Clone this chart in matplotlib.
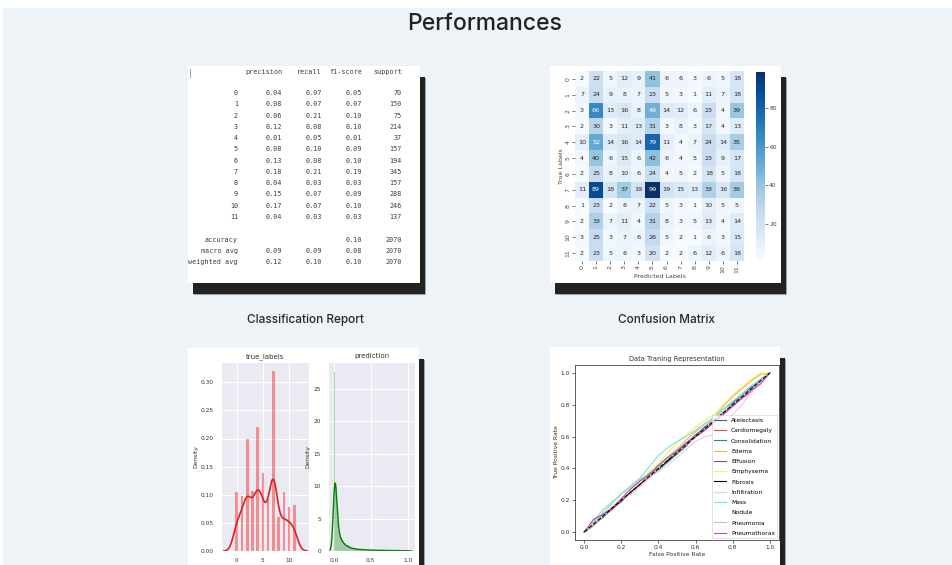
import numpy as np
import matplotlib
matplotlib.use("Agg")
import matplotlib.pyplot as plt
from matplotlib.patches import Rectangle
from matplotlib import font_manager
import seaborn as sns

W, H = 952, 565

# classification report
report_classes = [str(i) for i in range(12)]
precision = [0.04, 0.08, 0.06, 0.12, 0.01, 0.08, 0.13, 0.18, 0.04, 0.15, 0.17, 0.04]
recall = [0.07, 0.07, 0.21, 0.08, 0.05, 0.10, 0.08, 0.21, 0.03, 0.07, 0.07, 0.03]
f1_score = [0.05, 0.07, 0.10, 0.10, 0.01, 0.09, 0.10, 0.19, 0.03, 0.09, 0.10, 0.03]
support = [70, 150, 75, 214, 37, 157, 194, 345, 157, 288, 246, 137]
summary_names = ["accuracy", "macro avg", "weighted avg"]
summary_precision = [None, 0.09, 0.12]
summary_recall = [None, 0.09, 0.10]
summary_f1 = [0.10, 0.08, 0.10]
summary_support = [2070, 2070, 2070]

# confusion matrix (rows = true, cols = predicted)
cm_rows = [
    [2, 22, 5, 12, 9, 41, 6, 6, 3, 6, 5, 18],
    [7, 24, 9, 8, 7, 23, 5, 3, 1, 11, 7, 18],
    [3, 66, 13, 16, 8, 49, 14, 12, 6, 23, 4, 39],
    [2, 30, 3, 11, 13, 31, 3, 8, 3, 17, 4, 13],
    [10, 52, 14, 16, 14, 79, 11, 4, 7, 24, 14, 35],
    [4, 40, 6, 15, 6, 42, 6, 4, 5, 23, 9, 17],
    [2, 25, 8, 10, 6, 24, 4, 5, 2, 18, 5, 18],
    [11, 89, 18, 37, 19, 99, 19, 15, 13, 33, 16, 36],
    [1, 23, 2, 6, 7, 22, 5, 3, 1, 10, 5, 5],
    [2, 33, 7, 11, 4, 31, 8, 3, 5, 13, 4, 14],
    [3, 25, 3, 7, 6, 26, 5, 2, 1, 6, 3, 15],
    [2, 23, 5, 6, 3, 20, 2, 2, 6, 12, 6, 18],
]

# distributions
true_classes = list(range(12))
true_density = [0.105, 0.098, 0.200, 0.107, 0.220, 0.138, 0.092, 0.320, 0.060, 0.105, 0.078, 0.081]
pred_bin_density = [27.5, 10.0, 5.0, 3.2, 2.4, 1.9, 1.5, 1.2, 1.0, 0.85,
                    0.7, 0.6, 0.5, 0.45, 0.4, 0.36, 0.32, 0.3, 0.28, 0.26,
                    0.24, 0.22, 0.2, 0.19, 0.18, 0.17, 0.16, 0.15, 0.14, 0.14,
                    0.13, 0.12, 0.12, 0.11, 0.11, 0.1, 0.1, 0.1, 0.09, 0.09,
                    0.09, 0.09, 0.08, 0.08, 0.08, 0.08, 0.08, 0.08, 0.09, 0.1]

# roc curves
roc_classes = ["Atelectasis", "Cardiomegaly", "Consolidation", "Edema", "Effusion",
               "Emphysema", "Fibrosis", "Infiltration", "Mass", "Nodule",
               "Pneumonia", "Pneumothorax"]
roc_colors = ["#3a66b8", "#e0504a", "#2f8f5a", "#f2b04a", "#6e5a80", "#f4f060",
              "black", "#f2c6ee", "#7fdcf0", "white", "#8ee88e", "#d040c8"]
fpr_grid = [0, 0.05, 0.1, 0.15, 0.2, 0.25, 0.3, 0.35, 0.4, 0.45, 0.5,
            0.55, 0.6, 0.65, 0.7, 0.75, 0.8, 0.85, 0.9, 0.95, 1.0]
roc_tpr = [
    [0, 0.04, 0.10, 0.15, 0.19, 0.25, 0.31, 0.36, 0.41, 0.45, 0.50, 0.56, 0.60, 0.66, 0.71, 0.77, 0.82, 0.86, 0.91, 0.95, 1],
    [0, 0.06, 0.10, 0.14, 0.20, 0.26, 0.30, 0.34, 0.40, 0.46, 0.51, 0.55, 0.60, 0.64, 0.70, 0.74, 0.80, 0.84, 0.88, 0.94, 1],
    [0, 0.05, 0.09, 0.15, 0.21, 0.24, 0.29, 0.35, 0.39, 0.44, 0.49, 0.54, 0.61, 0.65, 0.69, 0.76, 0.79, 0.85, 0.90, 0.96, 1],
    [0, 0.04, 0.10, 0.16, 0.20, 0.25, 0.30, 0.36, 0.42, 0.47, 0.52, 0.58, 0.63, 0.68, 0.72, 0.79, 0.85, 0.90, 0.95, 0.99, 1],
    [0, 0.05, 0.11, 0.15, 0.20, 0.26, 0.32, 0.37, 0.40, 0.45, 0.50, 0.56, 0.61, 0.66, 0.70, 0.75, 0.81, 0.86, 0.90, 0.95, 1],
    [0, 0.05, 0.10, 0.16, 0.21, 0.27, 0.31, 0.38, 0.43, 0.50, 0.56, 0.61, 0.66, 0.70, 0.74, 0.80, 0.86, 0.91, 0.96, 1.00, 1],
    [0, 0.05, 0.10, 0.15, 0.20, 0.25, 0.30, 0.35, 0.40, 0.45, 0.50, 0.55, 0.60, 0.65, 0.70, 0.75, 0.80, 0.85, 0.90, 0.95, 1],
    [0, 0.06, 0.11, 0.16, 0.20, 0.24, 0.29, 0.34, 0.38, 0.42, 0.47, 0.52, 0.57, 0.60, 0.61, 0.66, 0.74, 0.80, 0.88, 0.94, 1],
    [0, 0.06, 0.12, 0.18, 0.24, 0.29, 0.34, 0.41, 0.48, 0.53, 0.57, 0.60, 0.64, 0.68, 0.72, 0.77, 0.82, 0.87, 0.92, 0.96, 1],
    [0, 0.05, 0.10, 0.15, 0.21, 0.26, 0.31, 0.35, 0.40, 0.46, 0.50, 0.55, 0.60, 0.65, 0.71, 0.76, 0.80, 0.85, 0.90, 0.95, 1],
    [0, 0.07, 0.14, 0.19, 0.24, 0.28, 0.33, 0.37, 0.41, 0.46, 0.50, 0.55, 0.60, 0.65, 0.70, 0.75, 0.80, 0.86, 0.90, 0.95, 1],
    [0, 0.08, 0.11, 0.15, 0.21, 0.27, 0.32, 0.36, 0.42, 0.47, 0.51, 0.56, 0.60, 0.64, 0.69, 0.74, 0.79, 0.84, 0.89, 0.93, 1],
]


def box(x0, y0, x1, y1):
    # pixel box (top-left origin) -> figure fraction rect
    return [x0 / W, 1 - y1 / H, (x1 - x0) / W, (y1 - y0) / H]


# pick a medium-weight sans for the page headings if one is installed
head_font = "Roboto"
for f in font_manager.fontManager.ttflist:
    if f.name in ("Inter", "Roboto") and f.weight in (500, "medium"):
        head_font = f.name
        break

fig = plt.figure(figsize=(W / 100, H / 100), dpi=100, facecolor="white")
bg = fig.add_axes([0, 0, 1, 1])
bg.set_xlim(0, W)
bg.set_ylim(H, 0)
bg.axis("off")
bg.add_patch(Rectangle((3, 8), W, H, color="#eef3f7", lw=0))


def card(x0, y0, x1, y1):
    bg.add_patch(Rectangle((x0 + 6, y0 + 12), x1 - x0, y1 - y0, color="#555555", alpha=0.5, lw=0))
    bg.add_patch(Rectangle((x0 + 5, y0 + 11), x1 - x0, y1 - y0, color="#222222", lw=0))
    bg.add_patch(Rectangle((x0, y0), x1 - x0, y1 - y0, color="white", lw=0))


card(188, 66, 420, 283)
card(550, 66, 781, 283)
card(188, 348, 419, 600)
card(550, 347, 780, 600)

bg.text(485, 24, "Performances", ha="center", va="center", fontsize=16.5,
        family=head_font, weight=500, color="#1f2328")
bg.text(305, 320, "Classification Report", ha="center", va="center", fontsize=8.5,
        family=head_font, weight=500, color="#24282c")
bg.text(666, 320, "Confusion Matrix", ha="center", va="center", fontsize=8.5,
        family=head_font, weight=500, color="#24282c")

# ---- classification report as text ----
mono = dict(family="DejaVu Sans Mono", fontsize=4.9, color="#3c3c3c", va="center", ha="right")
col_right = [282, 322, 362, 402]
bg.text(190, 73, "|", fontsize=6, color="#888888", va="center", ha="center")
for x, name in zip(col_right, ["precision", "recall", "f1-score", "support"]):
    bg.text(x, 72, name, **mono)
for i, lab in enumerate(report_classes):
    y = 93 + i * 11.27
    bg.text(238, y, lab, **mono)
    bg.text(col_right[0], y, f"{precision[i]:.2f}", **mono)
    bg.text(col_right[1], y, f"{recall[i]:.2f}", **mono)
    bg.text(col_right[2], y, f"{f1_score[i]:.2f}", **mono)
    bg.text(col_right[3], y, f"{support[i]}", **mono)
for i, name in enumerate(summary_names):
    y = 240 + i * 11
    bg.text(238, y, name, **mono)
    if summary_precision[i] is not None:
        bg.text(col_right[0], y, f"{summary_precision[i]:.2f}", **mono)
        bg.text(col_right[1], y, f"{summary_recall[i]:.2f}", **mono)
    bg.text(col_right[2], y, f"{summary_f1[i]:.2f}", **mono)
    bg.text(col_right[3], y, f"{summary_support[i]}", **mono)

# ---- confusion matrix ----
ax_cm = fig.add_axes(box(575, 71, 744, 261))
ax_cb = fig.add_axes(box(756, 72, 765, 260))
sns.heatmap(np.array(cm_rows), annot=True, fmt="d", cmap="Blues", ax=ax_cm,
            cbar_ax=ax_cb, annot_kws={"size": 4.6},
            xticklabels=report_classes, yticklabels=report_classes)
plt.setp(ax_cm.get_xticklabels(), fontsize=4.5, color="#444444")
plt.setp(ax_cm.get_yticklabels(), fontsize=4.5, color="#444444", rotation=90, va="center")
ax_cm.tick_params(length=2, width=0.5, pad=1, color="#444444")
ax_cm.set_xlabel("Predicted Labels", fontsize=4.5, color="#444444", labelpad=1)
ax_cm.set_ylabel("True Labels", fontsize=4.5, color="#444444", labelpad=1)
ax_cb.tick_params(labelsize=4.3, length=2, width=0.5, pad=1, colors="#444444")

# ---- distributions ----
with sns.axes_style("darkgrid"):
    ax_t = fig.add_axes(box(221, 362, 309, 551))
    ax_p = fig.add_axes(box(328, 362, 415, 551))

ax_t.bar(true_classes, true_density, width=0.5, color="red", alpha=0.4, lw=0)
sns.kdeplot(x=true_classes, weights=true_density, bw_adjust=0.37, color="#e02020",
            linewidth=1.2, ax=ax_t)
ax_t.set_xlim(-3, 13.8)
ax_t.set_ylim(0, 0.336)
ax_t.set_xticks([0, 5, 10])
ax_t.set_yticks([0, 0.05, 0.10, 0.15, 0.20, 0.25, 0.30])
ax_t.set_yticklabels([f"{v:.2f}" for v in ax_t.get_yticks()])
ax_t.set_title("true_labels", fontsize=5, pad=3, color="#333333")

edges = np.linspace(0, 1, len(pred_bin_density) + 1)
ax_p.bar(edges[:-1], pred_bin_density, width=edges[1] - edges[0], align="edge",
         color="green", alpha=0.3, lw=0)
centers = (edges[:-1] + edges[1:]) / 2
sns.kdeplot(x=centers, weights=pred_bin_density, bw_adjust=0.16, color="green",
            linewidth=1.0, ax=ax_p)
ax_p.set_xlim(-0.08, 1.1)
ax_p.set_ylim(0, 29.1)
ax_p.set_xticks([0, 0.5, 1.0])
ax_p.set_xticklabels(["0.0", "0.5", "1.0"])
ax_p.set_yticks([0, 5, 10, 15, 20, 25])
ax_p.set_title("prediction", fontsize=5, pad=3, color="#333333")

for ax in (ax_t, ax_p):
    ax.grid(color="white", linewidth=0.7)
    ax.tick_params(labelsize=4.2, pad=1.5, colors="#333333")
    ax.set_ylabel("Density", fontsize=4.3, labelpad=2, color="#333333")
    ax.set_xlabel("")

# ---- roc ----
ax_r = fig.add_axes(box(575, 365, 779, 540))
for name, col, tpr in zip(roc_classes, roc_colors, roc_tpr):
    ax_r.plot(fpr_grid, tpr, color=col, lw=0.8, label=name)
ax_r.plot([0, 1], [0, 1], "k--", lw=0.8)
ax_r.set_title("Data Traning Representation", fontsize=4.8, pad=3, color="#333333")
ax_r.set_xlabel("False Positive Rate", fontsize=4.3, labelpad=1.5, color="#333333")
ax_r.set_ylabel("True Positive Rate", fontsize=4.3, labelpad=1.5, color="#333333")
ax_r.set_xticks([0, 0.2, 0.4, 0.6, 0.8, 1.0])
ax_r.set_yticks([0, 0.2, 0.4, 0.6, 0.8, 1.0])
ax_r.tick_params(labelsize=4.2, length=2, width=0.5, pad=1.5, colors="#333333")
for s in ax_r.spines.values():
    s.set_linewidth(0.6)
    s.set_color("#444444")
leg = ax_r.legend(loc="lower right", fontsize=4.3, labelspacing=0.85,
                  handlelength=2.0, borderaxespad=0.3, frameon=True, fancybox=False,
                  edgecolor="#cccccc")
leg.get_frame().set_linewidth(0.5)

fig.savefig("out.png", dpi=100, facecolor=fig.get_facecolor())
